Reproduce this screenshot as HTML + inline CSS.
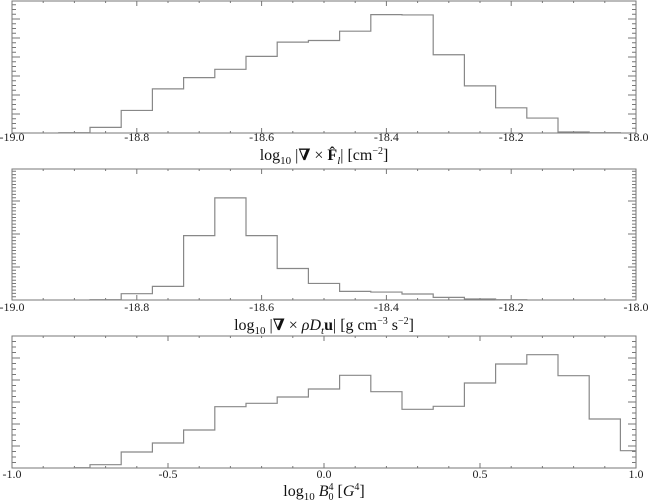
<!DOCTYPE html>
<html><head><meta charset="utf-8"><style>
body{margin:0;background:#fff}
svg{display:block;font-family:"Liberation Serif","DejaVu Serif",serif}
</style></head><body>
<svg id="c" width="648" height="501"></svg>
<script>
const p1Edges=[-18.925,-18.875,-18.825,-18.775,-18.725,-18.675,-18.625,-18.575,-18.525,-18.475,-18.425,-18.375,-18.325,-18.275,-18.225,-18.175,-18.125,-18.075,-18.025];
const p1Counts=[1,17,68,133,167,192,231,274,279,307,357,356,236,142,76,45,3,1];
const p2Edges=[-18.875,-18.825,-18.775,-18.725,-18.675,-18.625,-18.575,-18.525,-18.475,-18.425,-18.375,-18.325,-18.275,-18.225,-18.175];
const p2Counts=[1,19,41,194,308,194,95,50,26,24,18,8,3,1];
const p3Edges=[-0.8,-0.75,-0.65,-0.55,-0.45,-0.35,-0.25,-0.15,-0.05,0.05,0.15,0.25,0.35,0.45,0.55,0.65,0.75,0.85,0.95,1.0];
const p3Counts=[1,10,48,75,114,184,194,213,237,278,229,176,185,255,312,340,277,147,52];
const p1Ticks=["-19.0","-18.8","-18.6","-18.4","-18.2","-18.0"];
const p2Ticks=["-19.0","-18.8","-18.6","-18.4","-18.2","-18.0"];
const p3Ticks=["-1.0","-0.5","0.0","0.5","1.0"];
const NS="http://www.w3.org/2000/svg";
const svg=document.getElementById('c');
function mk(t,a,p){const e=document.createElementNS(NS,t);for(const k in a)e.setAttribute(k,a[k]);(p||svg).appendChild(e);return e;}
const X0=12,X1=636;
function panel(id,top,bot,xmin,xmax,edges,counts,ymax,ticks,minorPer,ymaj,yminPer,title,labY,titY){
  const g=mk('g',{});
  
  
  const sx=v=>X0+(v-xmin)/(xmax-xmin)*(X1-X0);
  const sy=v=>bot-v/ymax*(bot-top);
  const box=mk('rect',{x:X0,y:top,width:X1-X0,height:bot-top,fill:'none',stroke:'#777','stroke-width':1},g);
  
  
  let d='';
  const n=(ticks.length-1)*minorPer;
  for(let i=0;i<=n;i++){const x=X0+i*(X1-X0)/n;const L=i%minorPer==0?5:2;
    d+=`M${x},${bot}v${-L}M${x},${top}v${L}`;}
  const step=ymaj/yminPer;let k=0;
  for(let y=bot;y>=top;y-=step,k++){const L=k%yminPer==0?8:4;d+=`M${X0},${y}h${L}M${X1},${y}h${-L}`;}
  mk('path',{d:d,stroke:'#777','stroke-width':1,fill:'none'},g);
  ticks.forEach((t,i)=>{const tx=mk('text',{x:X0+i*(X1-X0)/(ticks.length-1),y:labY,'font-size':12,'text-anchor':'middle',fill:'#222'},g);tx.textContent=t;
    
    });
  let p=`M${sx(edges[0])},${bot}`;
  counts.forEach((c,i)=>{p+=`L${sx(edges[i])},${sy(c)}L${sx(edges[i+1])},${sy(c)}`;});
  p+=`L${sx(edges[edges.length-1])},${bot}`;
  const h=mk('path',{d:p,stroke:'#888','stroke-width':1.2,fill:'none'},g);
  
  
  const tt=mk('text',{x:324,y:titY,'font-size':16,'text-anchor':'middle',fill:'#111'},g);
  tt.innerHTML=title;
  
  
}
panel('panel-curl-flux',1,133,-19,-18,p1Edges,p1Counts,398,p1Ticks,4,19,4,
 'log<tspan font-size="11" dy="4">10</tspan><tspan dy="-4"> |</tspan><tspan font-weight="bold">∇</tspan> × <tspan font-weight="bold">F̂</tspan><tspan font-size="11" dy="4" font-style="italic">l</tspan><tspan dy="-4">| [cm</tspan><tspan font-size="10" dy="-6">−2</tspan><tspan dy="6">]</tspan>',141,160);
panel('panel-curl-force',169,300,-19,-18,p2Edges,p2Counts,395,p2Ticks,4,33,10,
 'log<tspan font-size="11" dy="4">10</tspan><tspan dy="-4"> |</tspan><tspan font-weight="bold">∇</tspan> × <tspan font-style="italic">ρD</tspan><tspan font-size="11" dy="4" font-style="italic">t</tspan><tspan dy="-4" font-weight="bold">u</tspan><tspan>| [g cm</tspan><tspan font-size="10" dy="-6">−3</tspan><tspan dy="6"> s</tspan><tspan font-size="10" dy="-6">−2</tspan><tspan dy="6">]</tspan>',311,330);
panel('panel-b0',336,468,-1,1,p3Edges,p3Counts,396,p3Ticks,5,22,4,
 'log<tspan font-size="11" dy="4">10</tspan><tspan dy="-4" font-style="italic"> B</tspan><tspan font-size="10" dy="-6">4</tspan><tspan font-size="10" dx="-5" dy="10">0</tspan><tspan dy="-4"> [</tspan><tspan font-style="italic">G</tspan><tspan font-size="10" dy="-6">4</tspan><tspan dy="6">]</tspan>',478,496);
</script>
</body></html>
